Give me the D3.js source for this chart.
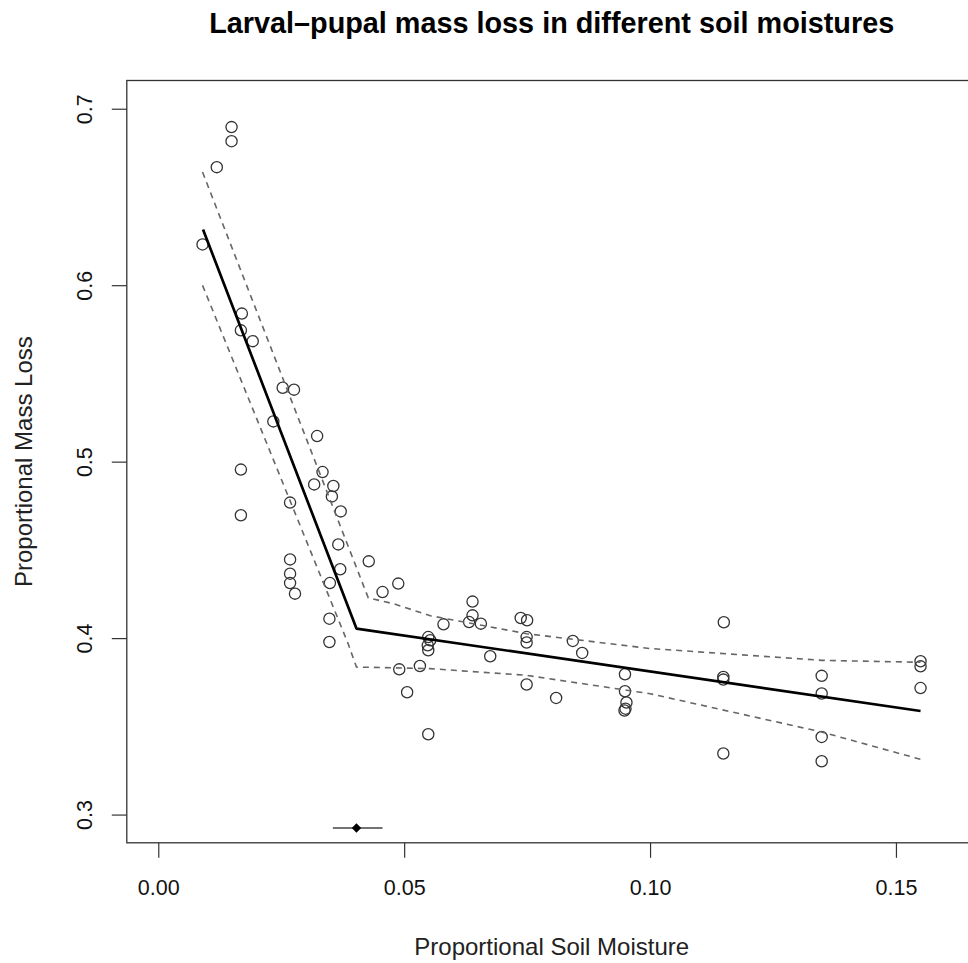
<!DOCTYPE html>
<html>
<head>
<meta charset="utf-8">
<script src="https://cdnjs.cloudflare.com/ajax/libs/d3/7.8.5/d3.min.js"></script>
<style>
  body { margin: 0; background: #fff; }
  text { font-family: "Liberation Sans", Arial, Helvetica, sans-serif; }
</style>
</head>
<body>
<div id="chart"></div>
<script>
// observed soil moisture and mass loss
var moisture = [0.0149, 0.0149, 0.0119, 0.0090, 0.0170, 0.0168, 0.0192, 0.0253, 0.0276, 0.0234,
    0.0323, 0.0168, 0.0334, 0.0317, 0.0356, 0.0353, 0.0268, 0.0371, 0.0168, 0.0366,
    0.0428, 0.0268, 0.0370, 0.0268, 0.0268, 0.0349, 0.0278, 0.0456, 0.0488, 0.0348,
    0.0348, 0.0639, 0.0639, 0.0632, 0.0656, 0.0580, 0.0737, 0.0750, 0.0549, 0.0553,
    0.0548, 0.0549, 0.0749, 0.0749, 0.0843, 0.0862, 0.0675, 0.0532, 0.0490, 0.0949,
    0.0749, 0.0949, 0.0506, 0.0809, 0.0952, 0.0948, 0.0950, 0.0549, 0.1150, 0.1149,
    0.1149, 0.1149, 0.1349, 0.1349, 0.1349, 0.1349, 0.1550, 0.1550, 0.1550];
var massLoss = [0.6896, 0.6816, 0.6669, 0.6231, 0.5839, 0.5744, 0.5683, 0.5419, 0.5408, 0.5228,
    0.5145, 0.4955, 0.4941, 0.4871, 0.4862, 0.4803, 0.4768, 0.4718, 0.4696, 0.4531,
    0.4435, 0.4446, 0.4390, 0.4365, 0.4312, 0.4312, 0.4252, 0.4261, 0.4309, 0.4110,
    0.3978, 0.4207, 0.4129, 0.4091, 0.4082, 0.4078, 0.4114, 0.4101, 0.4006, 0.3988,
    0.3959, 0.3931, 0.4006, 0.3975, 0.3984, 0.3916, 0.3897, 0.3842, 0.3823, 0.3795,
    0.3737, 0.3699, 0.3693, 0.3661, 0.3635, 0.3590, 0.3600, 0.3455, 0.4090, 0.3780,
    0.3765, 0.3346, 0.3786, 0.3686, 0.3440, 0.3302, 0.3869, 0.3840, 0.3717];

// segmented fit
var fitX = [0.0091, 0.0403, 0.1550];
var fitY = [0.6316, 0.4054, 0.3587];

// confidence band
var upperX = [0.0090, 0.0427, 0.0478, 0.0553, 0.0749, 0.1000, 0.1349, 0.1550];
var upperY = [0.6641, 0.4228, 0.4195, 0.4127, 0.4025, 0.3941, 0.3874, 0.3863];
var lowerX = [0.0090, 0.0386, 0.0403, 0.0553, 0.0749, 0.1000, 0.1349, 0.1550];
var lowerY = [0.5999, 0.3969, 0.3836, 0.3827, 0.3789, 0.3685, 0.3468, 0.3313];

// breakpoint estimate with its interval
var breakX = 0.0403;
var breakLo = 0.0355;
var breakHi = 0.0456;
var breakY = 0.2924;

var xTicks = [0, 0.05, 0.10, 0.15];
var xTickLabels = ["0.00", "0.05", "0.10", "0.15"];
var yTicks = [0.3, 0.4, 0.5, 0.6, 0.7];
var yTickLabels = ["0.3", "0.4", "0.5", "0.6", "0.7"];

var width = 968;
var height = 963;
// plot region (the right edge runs past the page, as in the original)
var plotLeft = 126.8, plotRight = 976.6, plotTop = 80.5, plotBottom = 842.8;

var svg = d3.select("#chart").append("svg")
    .attr("width", width)
    .attr("height", height);

// scales, R style 4% padding around xlim 0..0.16 and ylim 0.3..0.7
var x = d3.scaleLinear()
    .domain([-0.0064, 0.1664])
    .range([plotLeft, plotRight]);
var y = d3.scaleLinear()
    .domain([0.284, 0.716])
    .range([plotBottom, plotTop]);

// plot box
svg.append("rect")
    .attr("x", plotLeft)
    .attr("y", plotTop)
    .attr("width", plotRight - plotLeft)
    .attr("height", plotBottom - plotTop)
    .attr("fill", "none")
    .attr("stroke", "#333")
    .attr("stroke-width", 1.3);

// x axis
var xAxis = d3.axisBottom(x)
    .tickValues(xTicks)
    .tickFormat(function (d, i) { return xTickLabels[i]; })
    .tickSize(15)
    .tickPadding(22);
var gx = svg.append("g")
    .attr("transform", "translate(0," + plotBottom + ")")
    .call(xAxis);
gx.select(".domain").attr("stroke", "none");
gx.selectAll(".tick line").attr("stroke", "#333").attr("stroke-width", 1.2);
gx.selectAll(".tick text")
    .style("font-size", "21.5px")
    .attr("fill", "#111");

// y axis, labels parallel to axis
var yAxis = d3.axisLeft(y)
    .tickValues(yTicks)
    .tickFormat(function (d, i) { return yTickLabels[i]; })
    .tickSize(15);
var gy = svg.append("g")
    .attr("transform", "translate(" + plotLeft + ",0)")
    .call(yAxis);
gy.select(".domain").attr("stroke", "none");
gy.selectAll(".tick line").attr("stroke", "#333").attr("stroke-width", 1.2);
gy.selectAll(".tick text")
    .attr("x", null)
    .attr("dy", null)
    .attr("transform", "translate(-35,0) rotate(-90)")
    .attr("text-anchor", "middle")
    .style("font-size", "21.5px")
    .attr("fill", "#111");

// titles
svg.append("text")
    .attr("x", (plotLeft + plotRight) / 2)
    .attr("y", 33)
    .attr("text-anchor", "middle")
    .style("font-size", "28.8px")
    .attr("font-weight", "bold")
    .text("Larval\u2013pupal mass loss in different soil moistures");

svg.append("text")
    .attr("x", (plotLeft + plotRight) / 2)
    .attr("y", 955)
    .attr("text-anchor", "middle")
    .style("font-size", "24px")
    .attr("fill", "#222")
    .text("Proportional Soil Moisture");

svg.append("text")
    .attr("transform", "translate(32," + (plotTop + plotBottom) / 2 + ") rotate(-90)")
    .attr("text-anchor", "middle")
    .style("font-size", "24px")
    .attr("fill", "#222")
    .text("Proportional Mass Loss");

// points
svg.append("g")
    .selectAll("circle")
    .data(moisture)
    .enter()
    .append("circle")
    .attr("cx", function (d) { return x(d); })
    .attr("cy", function (d, i) { return y(massLoss[i]); })
    .attr("r", 5.6)
    .attr("fill", "none")
    .attr("stroke", "#333")
    .attr("stroke-width", 1.3);

// confidence band lines
var line = d3.line()
    .x(function (d) { return x(d[0]); })
    .y(function (d) { return y(d[1]); });

svg.append("path")
    .attr("d", line(d3.zip(upperX, upperY)))
    .attr("fill", "none")
    .attr("stroke", "#666")
    .attr("stroke-width", 1.6)
    .attr("stroke-dasharray", "6,5");
svg.append("path")
    .attr("d", line(d3.zip(lowerX, lowerY)))
    .attr("fill", "none")
    .attr("stroke", "#666")
    .attr("stroke-width", 1.6)
    .attr("stroke-dasharray", "6,5");

// fitted line
svg.append("path")
    .attr("d", line(d3.zip(fitX, fitY)))
    .attr("fill", "none")
    .attr("stroke", "#000")
    .attr("stroke-width", 2.7)
    .attr("stroke-linejoin", "round");

// breakpoint and its interval
svg.append("line")
    .attr("x1", x(breakLo))
    .attr("x2", x(breakHi))
    .attr("y1", y(breakY))
    .attr("y2", y(breakY))
    .attr("stroke", "#444")
    .attr("stroke-width", 1.5);
svg.append("path")
    .attr("d", d3.symbol().type(d3.symbolSquare).size(44))
    .attr("transform", "translate(" + x(breakX) + "," + y(breakY) + ") rotate(45)")
    .attr("fill", "#000");
</script>
</body>
</html>
